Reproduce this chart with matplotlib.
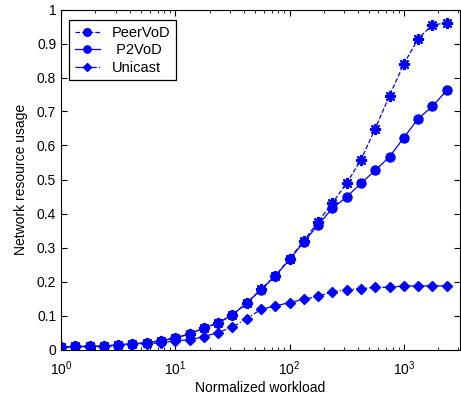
import numpy as np
import matplotlib
matplotlib.use("Agg")
import matplotlib.pyplot as plt
from matplotlib.ticker import LogLocator, NullFormatter

plt.rcParams['font.family'] = ['Liberation Sans', 'DejaVu Sans']
plt.rcParams['mathtext.default'] = 'regular'

# workload levels: 10^(k/8), k = 0..27
workload = [1.0, 1.334, 1.778, 2.371, 3.162, 4.217, 5.623, 7.499, 10.0, 13.34, 17.78, 23.71,
            31.62, 42.17, 56.23, 74.99, 100.0, 133.4, 177.8, 237.1, 316.2, 421.7, 562.3,
            749.9, 1000.0, 1334.0, 1778.0, 2371.0]

peervod = [0.007, 0.009, 0.009, 0.010, 0.014, 0.017, 0.020, 0.026, 0.034, 0.046, 0.063, 0.078,
           0.102, 0.137, 0.177, 0.217, 0.267, 0.320, 0.376, 0.431, 0.489, 0.558, 0.650,
           0.747, 0.840, 0.914, 0.955, 0.960]
p2vod = [0.007, 0.009, 0.009, 0.010, 0.014, 0.017, 0.020, 0.026, 0.034, 0.046, 0.063, 0.078,
         0.102, 0.136, 0.176, 0.216, 0.265, 0.316, 0.367, 0.415, 0.449, 0.489, 0.527,
         0.567, 0.623, 0.679, 0.715, 0.762]
unicast = [0.007, 0.007, 0.007, 0.008, 0.011, 0.015, 0.017, 0.019, 0.026, 0.028, 0.038, 0.050,
           0.066, 0.091, 0.118, 0.128, 0.138, 0.148, 0.156, 0.170, 0.176, 0.179, 0.183,
           0.183, 0.187, 0.187, 0.187, 0.187]

labels = ['PeerVoD', ' P2VoD', 'Unicast']
blue = '#0000FF'

fig = plt.figure(figsize=(4.61, 4.0), dpi=100)
ax = fig.add_axes([61/461, 1 - 349.5/400, (460 - 61)/461, (349.5 - 9.5)/400])

ax.plot(workload, peervod, linestyle='--', color=blue, lw=0.9, marker=(8, 2, 0),
        ms=8, mew=1.6, label=labels[0])
ax.plot(workload, p2vod, linestyle='-', color=blue, lw=0.9, marker='o',
        ms=6.5, mfc=blue, mec=blue, label=labels[1])
ax.plot(workload, unicast, linestyle='-.', color=blue, lw=0.9, marker='D',
        ms=5.2, mfc=blue, mec=blue, label=labels[2])

ax.set_xscale('log')
ax.set_xlim(1, 3100)
ax.set_ylim(0, 1)
ax.set_yticks(np.arange(0, 1.01, 0.1))
ax.set_yticklabels(['0', '0.1', '0.2', '0.3', '0.4', '0.5', '0.6', '0.7', '0.8', '0.9', '1'])
ax.xaxis.set_major_locator(LogLocator(base=10, numticks=10))
ax.xaxis.set_minor_locator(LogLocator(base=10, subs=np.arange(2, 10), numticks=20))
ax.xaxis.set_minor_formatter(NullFormatter())

ax.tick_params(which='both', direction='in', top=True, right=True, labelsize=10)
ax.tick_params(which='major', length=4, width=0.8)
ax.tick_params(axis='x', which='major', pad=7)
ax.tick_params(which='minor', length=2, width=0.6)
for s in ax.spines.values():
    s.set_linewidth(0.8)

ax.set_xlabel('Normalized workload', fontsize=10, labelpad=2)
ax.set_ylabel('Network resource usage', fontsize=10, labelpad=6)

leg = ax.legend(loc='upper left', bbox_to_anchor=(0.02, 0.969), borderaxespad=0,
                fancybox=False, edgecolor='black', framealpha=1, fontsize=10,
                handlelength=1.8, borderpad=0.4, labelspacing=0.25, handletextpad=0.9,
                markerscale=0.8)
leg.get_frame().set_linewidth(0.9)
for t in leg.get_texts():
    t.set_fontsize(10.5)

fig.savefig('out.png', dpi=100)
